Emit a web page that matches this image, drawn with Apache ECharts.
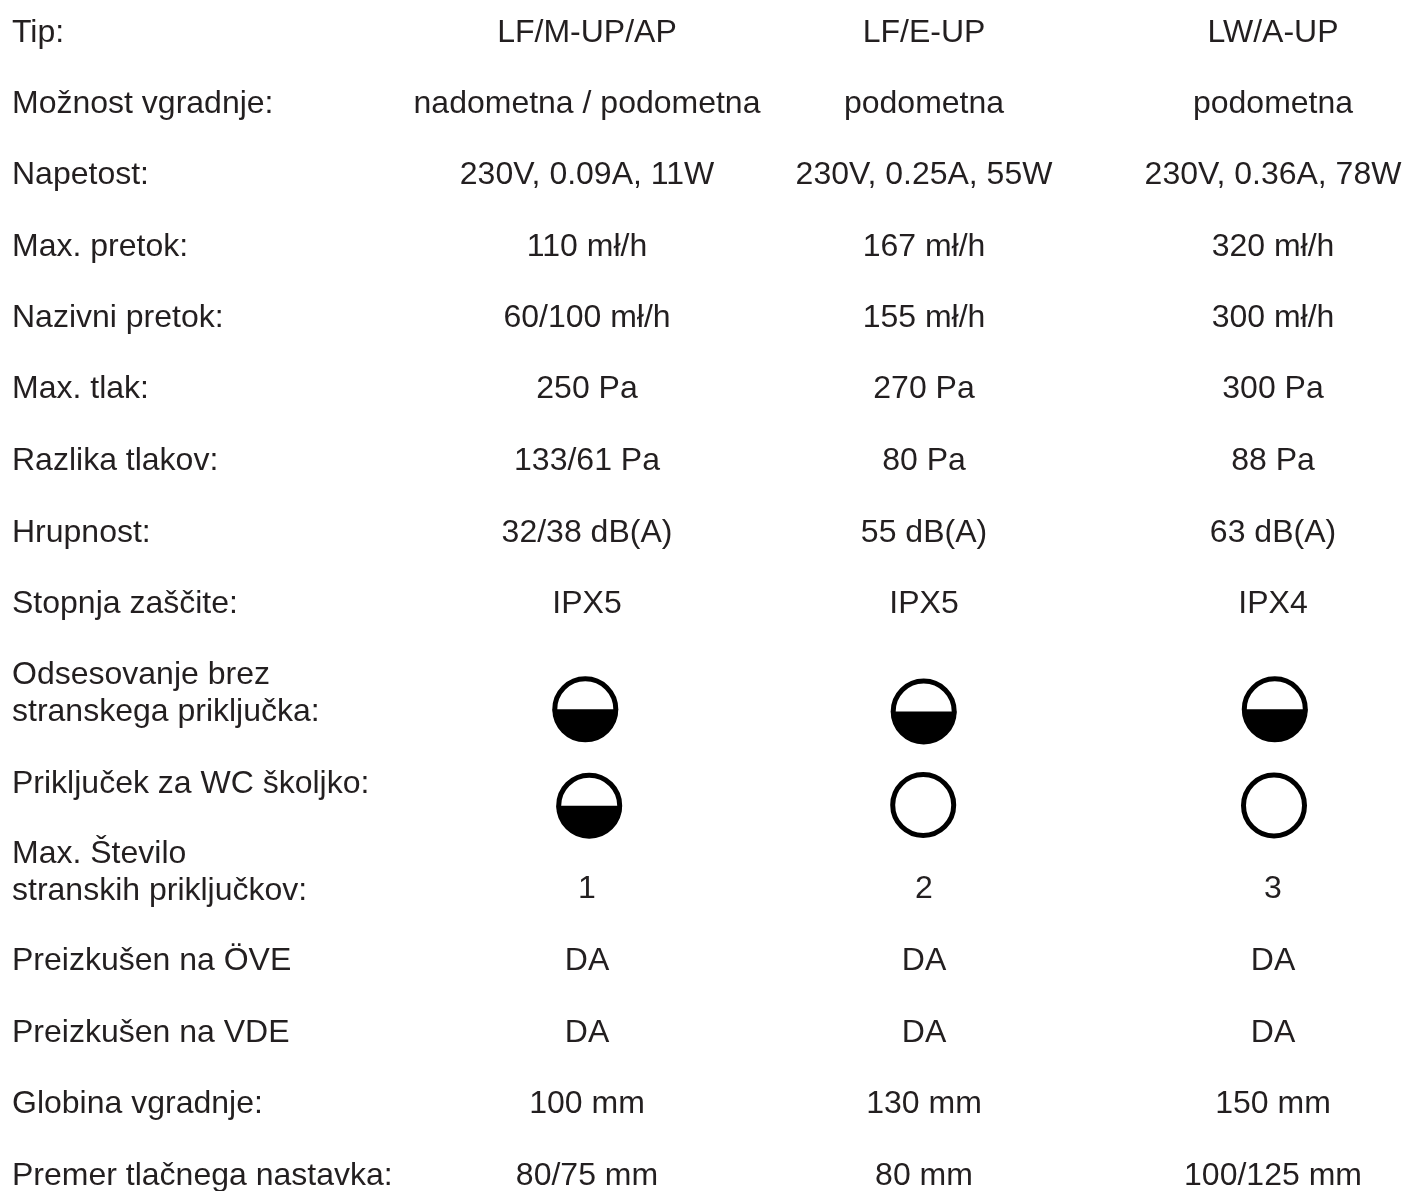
<!DOCTYPE html>
<html><head><meta charset="utf-8">
<style>html,body{margin:0;padding:0;background:#fff}#c{width:1406px;height:1191px}</style>
<script src="https://cdn.jsdelivr.net/npm/echarts@6/dist/echarts.min.js"></script>
</head><body><div id="c"></div>
<script>
const rowLabels = ["Tip:","Možnost vgradnje:","Napetost:","Max. pretok:","Nazivni pretok:","Max. tlak:","Razlika tlakov:","Hrupnost:","Stopnja zaščite:","Odsesovanje brez\nstranskega priključka:","Priključek za WC školjko:","Max. Število\nstranskih priključkov:","Preizkušen na ÖVE","Preizkušen na VDE","Globina vgradnje:","Premer tlačnega nastavka:"];
const labelLevels = [33,104,175,247,318,389,461,533,604,694,784,872.5,961,1033,1104,1176];
const valueLevels = [33,104,175,247,318,389,461,533,604,694,784,889,961,1033,1104,1176];
const columnLevels = [587,924,1273];
const labelColumnLevel = 12;
const colA = ["LF/M-UP/AP","nadometna / podometna","230V, 0.09A, 11W","110 mł/h","60/100 mł/h","250 Pa","133/61 Pa","32/38 dB(A)","IPX5","","","1","DA","DA","100 mm","80/75 mm"];
const colB = ["LF/E-UP","podometna","230V, 0.25A, 55W","167 mł/h","155 mł/h","270 Pa","80 Pa","55 dB(A)","IPX5","","","2","DA","DA","130 mm","80 mm"];
const colC = ["LW/A-UP","podometna","230V, 0.36A, 78W","320 mł/h","300 mł/h","300 Pa","88 Pa","63 dB(A)","IPX4","","","3","DA","DA","150 mm","100/125 mm"];
const symbolsHalf = [[585.3,709.3],[923.7,711.5],[1274.8,709.3],[589.2,805.7]];
const symbolsEmpty = [[923.2,805],[1274,805.5]];

const font = {fontFamily:'"Liberation Sans", Arial, sans-serif',fontSize:32,color:'#231f20',lineHeight:37,opacity:1};
function col(level,arr,levels){return arr.map((t,i)=>({value:[level,levels[i]],name:t})).filter(d=>d.name);}
function textSeries(level,arr,align,levels){return {type:'scatter',symbolSize:0,silent:true,animation:false,itemStyle:{opacity:1},
  data:col(level,arr,levels),label:{show:true,position:'inside',align:align,verticalAlign:'middle',formatter:p=>p.name,...font}};}
const chart = echarts.init(document.getElementById('c'),null,{renderer:'canvas'});
chart.setOption({
  animation:false,backgroundColor:'#fff',
  grid:{left:0,right:0,top:0,bottom:0},
  xAxis:{type:'value',min:0,max:1406,show:false},
  yAxis:{type:'value',min:0,max:1191,inverse:true,show:false},
  series:[
    textSeries(labelColumnLevel,rowLabels,'left',labelLevels),
    textSeries(columnLevels[0],colA,'center',valueLevels),
    textSeries(columnLevels[1],colB,'center',valueLevels),
    textSeries(columnLevels[2],colC,'center',valueLevels),
    {type:'custom',silent:true,data:symbolsHalf,clip:false,renderItem(p,api){
      const c=api.coord([api.value(0),api.value(1)]);const R=33;const cut=-2.3;
      const dx=Math.sqrt(R*R-cut*cut);
      return {type:'group',x:c[0],y:c[1],children:[
        {type:'circle',shape:{r:R-2.5},style:{fill:'#fff',stroke:'#000',lineWidth:5}},
        {type:'path',shape:{pathData:`M${-dx} ${cut}A${R} ${R} 0 0 0 ${dx} ${cut}Z`,x:-dx,y:cut,width:2*dx,height:R-cut},style:{fill:'#000'}}
      ]};
    }},
    {type:'custom',silent:true,data:symbolsEmpty,clip:false,renderItem(p,api){
      const c=api.coord([api.value(0),api.value(1)]);
      return {type:'group',x:c[0],y:c[1],children:[{type:'circle',shape:{r:30.5},style:{fill:'#fff',stroke:'#000',lineWidth:5}}]};
    }}
  ]
});
</script></body></html>
